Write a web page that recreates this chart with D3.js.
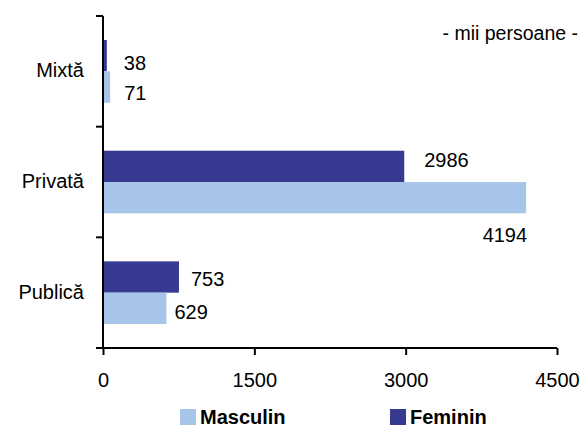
<!DOCTYPE html>
<html>
<head>
<meta charset="utf-8">
<script src="https://cdn.jsdelivr.net/npm/d3@7"></script>
<style>
  html, body { margin: 0; padding: 0; background: #fff; }
  svg { display: block; font-family: "Liberation Sans", Arial, sans-serif; }
</style>
</head>
<body>
<svg id="chart" width="585" height="428"></svg>
<script>
// ---- data ----
const categories = ["Mixtă", "Privată", "Publică"];
const series = ["Feminin", "Masculin"];
const feminin = [38, 2986, 753];
const masculin = [71, 4194, 629];
const xTicks = [0, 1500, 3000, 4500];
const unitLabel = "- mii persoane -";
const legendOrder = ["Masculin", "Feminin"];

// ---- layout / style ----
const colors = { Feminin: "#373a91", Masculin: "#a7c5e9" };
// label nudges relative to bar end / bar centre: [dx, dy, anchor]
const labelNudge = {
  Feminin: [[17, 7, "start"], [20, -6, "start"], [12, 2, "start"]],
  Masculin: [[14, 6, "start"], [1, 37, "end"], [8, 4, "start"]]
};

const svg = d3.select("#chart");
const x = d3.scaleLinear().domain([0, 4500]).range([103, 557]);
const y = d3.scaleBand().domain(categories).range([16, 348]).padding(0);
const yInner = d3.scaleBand().domain(series).range([0, y.bandwidth()])
  .paddingInner(0).paddingOuter(0.768);

const values = { Feminin: feminin, Masculin: masculin };

// bars
series.forEach(s => {
  svg.append("g").selectAll("rect")
    .data(categories.map((c, i) => ({ c, v: values[s][i], i })))
    .join("rect")
    .attr("x", x(0))
    .attr("y", d => y(d.c) + yInner(s))
    .attr("width", d => x(d.v) - x(0))
    .attr("height", yInner.bandwidth())
    .attr("fill", colors[s]);
});

// value labels
series.forEach(s => {
  svg.append("g").selectAll("text")
    .data(categories.map((c, i) => ({ c, v: values[s][i], i })))
    .join("text")
    .attr("x", d => x(d.v) + labelNudge[s][d.i][0])
    .attr("y", d => y(d.c) + yInner(s) + yInner.bandwidth() / 2 + 7 + labelNudge[s][d.i][1])
    .attr("text-anchor", d => labelNudge[s][d.i][2])
    .attr("font-size", 20)
    .attr("fill", "#000")
    .text(d => d.v);
});

// x axis
const xAxis = d3.axisBottom(x).tickValues(xTicks).tickSize(7).tickPadding(18)
  .tickFormat(d3.format("d"));
const gx = svg.append("g").attr("transform", `translate(0,${y.range()[1]})`).call(xAxis);
gx.select(".domain").attr("stroke", "#000").attr("stroke-width", 2)
  .attr("d", `M${x(0)},0H${x(4500)}`);
gx.selectAll(".tick line").attr("stroke", "#000").attr("stroke-width", 2);
gx.selectAll(".tick text").attr("font-size", 20).attr("font-family", "Liberation Sans, Arial, sans-serif").attr("fill", "#000");

// y axis
const gy = svg.append("g");
gy.append("line")
  .attr("x1", x(0)).attr("x2", x(0))
  .attr("y1", y.range()[0]).attr("y2", y.range()[1])
  .attr("stroke", "#000").attr("stroke-width", 2);
const boundaries = d3.range(categories.length + 1).map(i => y.range()[0] + i * y.step());
gy.selectAll("line.tk").data(boundaries).join("line")
  .attr("class", "tk")
  .attr("x1", x(0) - 7).attr("x2", x(0))
  .attr("y1", d => d).attr("y2", d => d)
  .attr("stroke", "#000").attr("stroke-width", 2);
gy.selectAll("text").data(categories).join("text")
  .attr("x", x(0) - 19)
  .attr("y", d => y(d) + y.bandwidth() / 2 + 6)
  .attr("text-anchor", "end")
  .attr("font-size", 20)
  .attr("fill", "#000")
  .text(d => d);

// unit label
svg.append("text")
  .attr("x", 578).attr("y", 40)
  .attr("text-anchor", "end")
  .attr("font-size", 19.5)
  .attr("fill", "#000")
  .text(unitLabel);

// legend
const legendX = { Masculin: 180, Feminin: 390 };
const lg = svg.append("g").selectAll("g").data(legendOrder).join("g")
  .attr("transform", d => `translate(${legendX[d]},409)`);
lg.append("rect").attr("width", 16).attr("height", 16).attr("fill", d => colors[d]);
lg.append("text").attr("x", 20).attr("y", 14.5)
  .attr("font-size", 20).attr("font-weight", "bold").attr("fill", "#000")
  .text(d => d);
</script>
</body>
</html>
